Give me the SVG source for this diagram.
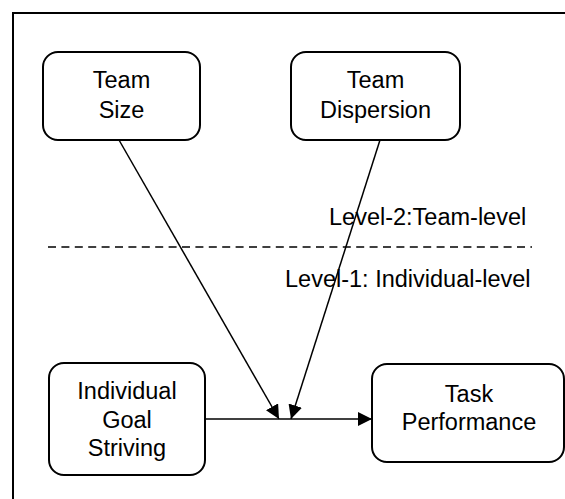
<svg xmlns="http://www.w3.org/2000/svg" width="565" height="499" viewBox="0 0 565 499">
<defs>
<marker id="arr" markerUnits="userSpaceOnUse" markerWidth="14" markerHeight="14" refX="14" refY="7" orient="auto" viewBox="0 0 14 14">
<path d="M0,0 L14,7 L0,14 z" fill="#000"/>
</marker>
<style>
.box{fill:#fff;stroke:#000;stroke-width:2}
.t{font-family:"Liberation Sans",Arial,sans-serif;font-size:23.5px;fill:#000;text-anchor:middle}
.lv{font-family:"Liberation Sans",Arial,sans-serif;font-size:23.5px;fill:#000}
.ln{stroke:#000;stroke-width:1.5;fill:none}
</style>
</defs>
<rect width="565" height="499" fill="#fff"/>
<rect x="13" y="13" width="600" height="600" fill="none" stroke="#000" stroke-width="2"/>
<line x1="48" y1="247" x2="532" y2="247" stroke="#000" stroke-width="1.5" stroke-dasharray="8,5.4"/>
<text class="lv" x="329" y="225">Level-2:Team-level</text>
<text class="lv" x="285" y="287">Level-1: Individual-level</text>
<g id="connectors">
<line class="ln" x1="119" y1="140" x2="279" y2="419" marker-end="url(#arr)"/>
<line class="ln" x1="380" y1="140" x2="291" y2="419" marker-end="url(#arr)"/>
<line class="ln" x1="205" y1="419" x2="372" y2="419" marker-end="url(#arr)"/>
</g>
<g id="team-size">
<rect class="box" x="43" y="52" width="157" height="88" rx="15"/>
<text class="t" x="121.5" y="88">Team</text>
<text class="t" x="121.5" y="118">Size</text>
</g>
<g id="team-dispersion">
<rect class="box" x="291" y="52" width="169" height="88" rx="15"/>
<text class="t" x="375.5" y="88">Team</text>
<text class="t" x="375.5" y="118">Dispersion</text>
</g>
<g id="individual-goal-striving">
<rect class="box" x="49" y="363" width="156" height="112" rx="15"/>
<text class="t" x="127" y="399">Individual</text>
<text class="t" x="127" y="428">Goal</text>
<text class="t" x="127" y="456">Striving</text>
</g>
<g id="task-performance">
<rect class="box" x="372" y="364" width="192" height="98" rx="15"/>
<text class="t" x="469" y="402">Task</text>
<text class="t" x="469" y="430">Performance</text>
</g>
</svg>
